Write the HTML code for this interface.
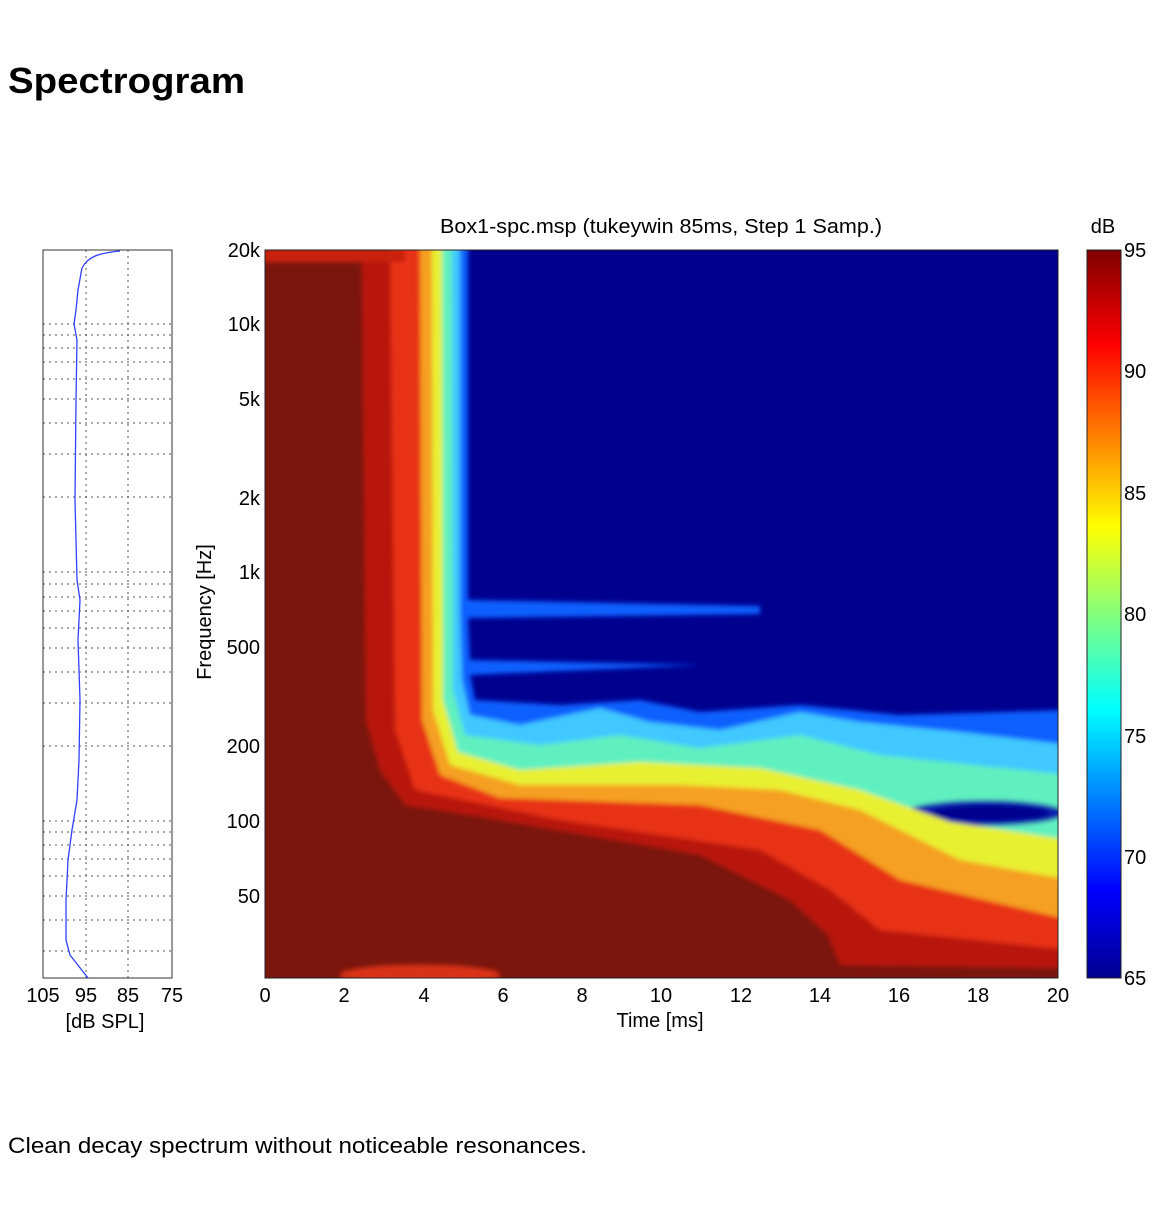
<!DOCTYPE html>
<html><head><meta charset="utf-8"><style>
body{margin:0;background:#fff;width:1170px;height:1212px;overflow:hidden;font-family:"Liberation Sans",Arial,sans-serif}
</style></head><body>
<svg width="1170" height="1212" xmlns="http://www.w3.org/2000/svg" font-family="Liberation Sans, Arial, sans-serif">
<text x="8" y="93" font-size="36" font-weight="bold" textLength="237" lengthAdjust="spacingAndGlyphs">Spectrogram</text>
<text x="8" y="1153" font-size="22" textLength="579" lengthAdjust="spacingAndGlyphs">Clean decay spectrum without noticeable resonances.</text>

<!-- left plot -->
<g stroke="#555" stroke-width="1" stroke-dasharray="2,4">
<line x1="86" y1="250" x2="86" y2="978"/><line x1="128" y1="250" x2="128" y2="978"/>
<line x1="43" y1="324" x2="172" y2="324"/><line x1="43" y1="335" x2="172" y2="335"/><line x1="43" y1="348" x2="172" y2="348"/><line x1="43" y1="362" x2="172" y2="362"/><line x1="43" y1="379" x2="172" y2="379"/><line x1="43" y1="399" x2="172" y2="399"/><line x1="43" y1="423" x2="172" y2="423"/><line x1="43" y1="454" x2="172" y2="454"/><line x1="43" y1="497" x2="172" y2="497"/>
<line x1="43" y1="572" x2="172" y2="572"/><line x1="43" y1="584" x2="172" y2="584"/><line x1="43" y1="597" x2="172" y2="597"/><line x1="43" y1="611" x2="172" y2="611"/><line x1="43" y1="628" x2="172" y2="628"/><line x1="43" y1="648" x2="172" y2="648"/><line x1="43" y1="672" x2="172" y2="672"/><line x1="43" y1="703" x2="172" y2="703"/><line x1="43" y1="746" x2="172" y2="746"/>
<line x1="43" y1="821" x2="172" y2="821"/><line x1="43" y1="832" x2="172" y2="832"/><line x1="43" y1="845" x2="172" y2="845"/><line x1="43" y1="859" x2="172" y2="859"/><line x1="43" y1="876" x2="172" y2="876"/><line x1="43" y1="896" x2="172" y2="896"/><line x1="43" y1="920" x2="172" y2="920"/><line x1="43" y1="951" x2="172" y2="951"/>
</g>
<rect x="43" y="250" width="129" height="728" fill="none" stroke="#333" stroke-width="1"/>
<path d="M120,251 C100,253 88,256 82,268 L78,290 L76,310 L74,324 L77,340 L76,400 L75,500 L77,580 L80,600 L78,640 L80,700 L79,760 L77,800 L72,830 L68,860 L66,900 L66,940 L70,955 L88,978" fill="none" stroke="#3040ff" stroke-width="1.3"/>
<g font-size="20" text-anchor="middle">
<text x="43" y="1002">105</text><text x="86" y="1002">95</text><text x="128" y="1002">85</text><text x="172" y="1002">75</text>
<text x="105" y="1028">[dB SPL]</text>
</g>

<!-- main spectrogram -->
<defs><clipPath id="c"><rect x="265" y="250" width="793" height="728"/></clipPath>
<filter id="b"><feGaussianBlur stdDeviation="2.5"/></filter></defs>
<g clip-path="url(#c)">
<rect x="265" y="250" width="793" height="728" fill="#00008f"/>
<g filter="url(#b)">
<path d="M250,240 L468,240 L468,600 L760,606 L760,614 L468,618 L470,660 L700,665 L470,675 L475,700 L560,705 L640,700 L700,712 L800,705 L900,715 L1070,710 L1070,990 L250,990Z" fill="#1060ff"/>
<path d="M250,240 L460,240 L460,610 L462,680 L470,715 L520,725 L600,708 L650,722 L720,730 L800,712 L860,722 L960,732 L1070,745 L1070,990 L250,990Z" fill="#40c8ff"/>
<path d="M250,240 L452,240 L453,690 L465,735 L540,745 L620,735 L700,748 L800,735 L880,755 L1070,775 L1070,990 L250,990Z" fill="#60f0c0"/>
<ellipse cx="985" cy="813" rx="80" ry="13" fill="#1020b0"/>
<ellipse cx="990" cy="813" rx="60" ry="8" fill="#00008f"/>
<path d="M250,240 L442,240 L443,700 L458,752 L520,770 L640,762 L760,768 L860,790 L950,822 L1070,840 L1070,990 L250,990Z" fill="#e8f030"/>
<path d="M250,240 L432,240 L433,710 L450,765 L520,785 L680,785 L780,790 L860,810 L960,860 L1070,880 L1070,990 L250,990Z" fill="#f5a020"/>
<path d="M250,240 L420,240 L422,720 L440,775 L500,798 L700,805 L820,830 L900,880 L1070,920 L1070,990 L250,990Z" fill="#e83018"/>
<path d="M250,240 L390,240 L395,730 L415,790 L560,820 L760,850 L830,890 L880,930 L1070,950 L1070,990 L250,990Z" fill="#b81810"/>
<path d="M265,262 L362,262 L366,720 L380,770 L405,805 L470,815 L700,855 L790,900 L828,935 L840,965 L1070,968 L1070,990 L250,990 L250,262Z" fill="#7a1410"/>
<rect x="265" y="250" width="140" height="12" fill="#c82010"/>
<ellipse cx="420" cy="975" rx="80" ry="10" fill="#d83018"/>
</g>
</g>
<rect x="265" y="250" width="793" height="728" fill="none" stroke="#222" stroke-width="1"/>
<g font-size="20" text-anchor="end">
<text x="260" y="257">20k</text><text x="260" y="331">10k</text><text x="260" y="406">5k</text><text x="260" y="505">2k</text><text x="260" y="579">1k</text><text x="260" y="654">500</text><text x="260" y="753">200</text><text x="260" y="828">100</text><text x="260" y="903">50</text>
</g>
<g font-size="20" text-anchor="middle">
<text x="265" y="1002">0</text><text x="344" y="1002">2</text><text x="424" y="1002">4</text><text x="503" y="1002">6</text><text x="582" y="1002">8</text><text x="661" y="1002">10</text><text x="741" y="1002">12</text><text x="820" y="1002">14</text><text x="899" y="1002">16</text><text x="978" y="1002">18</text><text x="1058" y="1002">20</text>
<text x="660" y="1027">Time [ms]</text>
<text x="661" y="233" textLength="442" lengthAdjust="spacingAndGlyphs">Box1-spc.msp (tukeywin 85ms, Step 1 Samp.)</text>
<text x="1103" y="233">dB</text>
</g>
<text transform="translate(211,612) rotate(-90)" font-size="20" text-anchor="middle">Frequency [Hz]</text>

<!-- colorbar -->
<defs><linearGradient id="cb" x1="0" y1="1" x2="0" y2="0">
<stop offset="0" stop-color="#00008f"/><stop offset="0.12" stop-color="#0000ff"/><stop offset="0.37" stop-color="#00ffff"/><stop offset="0.62" stop-color="#ffff00"/><stop offset="0.87" stop-color="#ff0000"/><stop offset="1" stop-color="#7f0000"/>
</linearGradient></defs>
<rect x="1087" y="250" width="34" height="728" fill="url(#cb)" stroke="#222"/>
<g font-size="20">
<text x="1124" y="257">95</text><text x="1124" y="378">90</text><text x="1124" y="500">85</text><text x="1124" y="621">80</text><text x="1124" y="743">75</text><text x="1124" y="864">70</text><text x="1124" y="985">65</text>
</g>
</svg>
</body></html>
